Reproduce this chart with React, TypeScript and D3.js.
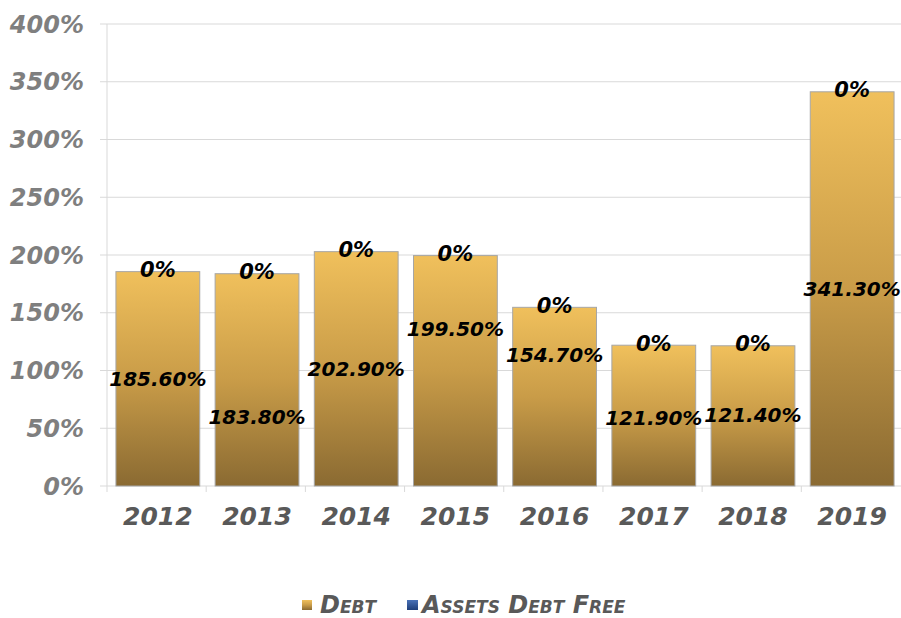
import React from 'react';
import * as d3 from 'd3';

const years = ['2012', '2013', '2014', '2015', '2016', '2017', '2018', '2019'];
const debt = [185.6, 183.8, 202.9, 199.5, 154.7, 121.9, 121.4, 341.3];
const assetsDebtFree = [0, 0, 0, 0, 0, 0, 0, 0];
// where the debt value labels sit (in % units), nudged like the source to avoid clashes
const debtLabelAt = [92.8, 59.7, 101.4, 135.9, 113.4, 58.9, 61.5, 170.6];
const yTicks = [0, 50, 100, 150, 200, 250, 300, 350, 400];
const seriesNames = ['Debt', 'Assets Debt Free'];

const W = 901;
const H = 618;
const margin = { top: 24, right: 0, bottom: 132, left: 107 };
const FONT = "'DejaVu Sans', sans-serif";

export default function App() {
  const innerW = W - margin.left - margin.right;
  const innerH = H - margin.top - margin.bottom;

  const x = d3.scaleBand().domain(years).range([0, innerW]).paddingInner(0.155).paddingOuter(0.08);
  const y = d3.scaleLinear().domain([0, 400]).range([innerH, 0]);
  const step = x.step();

  return (
    <svg width={W} height={H} style={{ position: 'absolute', left: 0, top: 0, background: '#fff' }}>
      <defs>
        <linearGradient id="gold" x1="0" y1="0" x2="0" y2="1">
          <stop offset="0%" stopColor="#f0c05c" />
          <stop offset="50%" stopColor="#c99c48" />
          <stop offset="100%" stopColor="#8a6a32" />
        </linearGradient>
        <linearGradient id="blue" x1="0" y1="0" x2="0" y2="1">
          <stop offset="0%" stopColor="#4a72b8" />
          <stop offset="100%" stopColor="#1f3f7a" />
        </linearGradient>
      </defs>
      <g transform={`translate(${margin.left},${margin.top})`}>
        {yTicks.map((t) => (
          <g key={t}>
            <line x1={-7} x2={innerW} y1={y(t)} y2={y(t)} stroke="#d9d9d9" strokeWidth={1} />
            <text
              x={-23}
              y={y(t)}
              dy="0.36em"
              textAnchor="end"
              fontFamily={FONT}
              fontWeight="bold"
              fontStyle="italic"
              fontSize={24}
              fill="#7f7f7f"
            >
              {t}%
            </text>
          </g>
        ))}
        <line x1={0} x2={0} y1={0} y2={innerH} stroke="#d9d9d9" />
        {years.map((yr, i) => (
          <line key={yr} x1={i * step} x2={i * step} y1={innerH} y2={innerH + 6} stroke="#d9d9d9" />
        ))}
        {years.map((yr, i) => {
          const bx = (x(yr) as number) + 1;
          const bw = x.bandwidth();
          const cx = bx + bw / 2;
          const top = y(debt[i]);
          const top2 = y(debt[i] + assetsDebtFree[i]);
          return (
            <g key={yr}>
              <rect x={bx} y={top} width={bw} height={innerH - top} fill="url(#gold)" stroke="#a6a6a6" strokeWidth={1} />
              <rect x={bx} y={top2} width={bw} height={top - top2} fill="url(#blue)" />
              <text
                x={cx}
                y={y(debtLabelAt[i])}
                dy="0.36em"
                textAnchor="middle"
                fontFamily={FONT}
                fontWeight="bold"
                fontStyle="italic"
                fontSize={20}
                fill="#000"
              >
                {debt[i].toFixed(2)}%
              </text>
              <text
                x={cx}
                y={top2 - 2}
                dy="0.36em"
                textAnchor="middle"
                fontFamily={FONT}
                fontWeight="bold"
                fontStyle="italic"
                fontSize={21}
                fill="#000"
              >
                {assetsDebtFree[i]}%
              </text>
              <text
                x={cx}
                y={innerH + 30}
                dy="0.36em"
                textAnchor="middle"
                fontFamily={FONT}
                fontWeight="bold"
                fontStyle="italic"
                fontSize={25}
                fill="#595959"
              >
                {yr}
              </text>
            </g>
          );
        })}
      </g>
      <g transform="translate(302,604)" fontFamily={FONT} fontWeight="bold" fontStyle="italic" fontSize={24} fill="#595959">
        <rect x={0} y={-4} width={10} height={10} fill="url(#gold)" />
        <text x={18} dy="0.36em" style={{ fontVariant: 'small-caps' }}>{seriesNames[0]}</text>
        <rect x={105} y={-4} width={11} height={10} fill="url(#blue)" />
        <text x={120} dy="0.36em" style={{ fontVariant: 'small-caps' }}>{seriesNames[1]}</text>
      </g>
    </svg>
  );
}
